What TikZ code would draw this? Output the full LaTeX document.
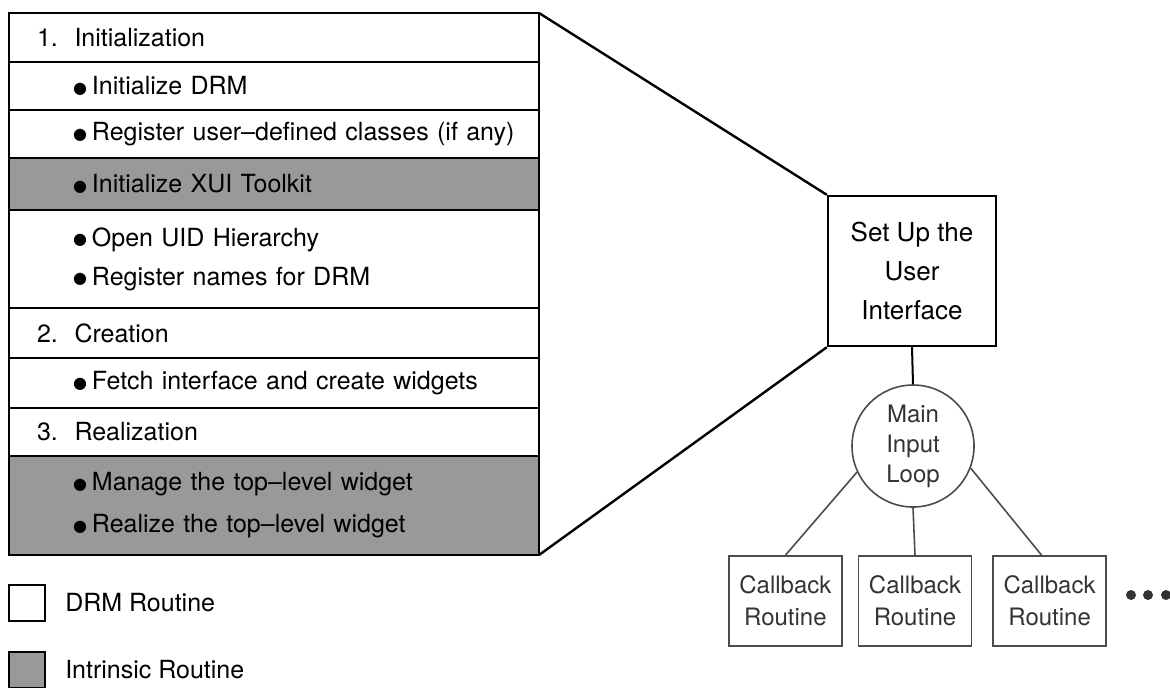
\documentclass[tikz,border=0pt]{standalone}
\usepackage{fontspec}
\setmainfont{TeX Gyre Heros}
\newfontfamily\symfont{DejaVu Sans}
\usetikzlibrary{positioning}

\tikzset{
  row/.style={draw, line width=1.4pt, anchor=north west, minimum width=265pt,
    text width=255pt, inner xsep=5pt, inner ysep=0pt, outer sep=0pt,
    align=left, font=\fontsize{12.5}{19.5}\selectfont},
  intr/.style={row, fill=black!40},
  setupbox/.style={draw, line width=1.2pt, minimum width=84pt, minimum height=75pt,
    align=center, font=\fontsize{13}{19.5}\selectfont},
  loopnode/.style={draw=black!70, circle, line width=0.8pt, minimum size=61pt,
    inner sep=0pt, align=center, text=black!80, font=\fontsize{12}{15}\selectfont},
  cbbox/.style={draw=black!70, line width=0.8pt, minimum width=56.5pt, minimum height=45pt,
    inner sep=0pt, align=center, text=black!80, font=\fontsize{12}{16}\selectfont},
  legbox/.style={draw, line width=1.2pt, minimum size=18pt, inner sep=0pt},
  legtext/.style={font=\fontsize{12.5}{15}\selectfont, anchor=west},
  thin link/.style={draw=black!70, line width=0.8pt}
}
\newcommand{\numitem}[2]{\hspace*{9pt}#1.\ \ #2}
\newcommand{\bitem}[1]{\hspace*{27pt}{\symfont\fontsize{8}{8}\selectfont\raisebox{0.6pt}{●}}\hspace{2.5pt}#1}

\begin{document}
\begin{tikzpicture}[x=0.5pt, y=-0.5pt]
  \useasboundingbox (0,0) rectangle (1170,687);

  % Table of steps
  \node[row, minimum height=24.5pt] (r1) at (9,13) {\numitem{1}{Initialization}};
  \node[row, minimum height=24pt] (r2) at (r1.south west) {\bitem{Initialize DRM}};
  \node[row, minimum height=24pt] (r3) at (r2.south west) {\bitem{Register user--defined classes (if any)}};
  \node[intr, minimum height=26pt] (r4) at (r3.south west) {\bitem{Initialize XUI Toolkit}};
  \node[row, minimum height=49pt] (r5) at (r4.south west) {\bitem{Open UID Hierarchy}\\ \bitem{Register names for DRM}};
  \node[row, minimum height=25pt] (r6) at (r5.south west) {\numitem{2}{Creation}};
  \node[row, minimum height=25pt] (r7) at (r6.south west) {\bitem{Fetch interface and create widgets}};
  \node[row, minimum height=24pt] (r8) at (r7.south west) {\numitem{3}{Realization}};
  \node[intr, minimum height=49.5pt] (r9) at (r8.south west) {\bitem{Manage the top--level widget}\\[1.5pt] \bitem{Realize the top--level widget}};

  % Legend
  \node[legbox] (lg1) at (27,603) {};
  \node[legtext, right=6pt of lg1] (lt1) {DRM Routine};
  \node[legbox, fill=black!40] (lg2) at (27,670) {};
  \node[legtext, right=6pt of lg2] (lt2) {Intrinsic Routine};

  % Right side
  \node[setupbox] (setup) at (912,271) {Set Up the\\User\\Interface};
  \node[loopnode] (loop) at (913,446) {Main\\Input\\Loop};
  \node[cbbox] (cb2) at (915,601) {Callback\\Routine};
  \node[cbbox, left=7.5pt of cb2] (cb1) {Callback\\Routine};
  \node[cbbox, right=10pt of cb2] (cb3) {Callback\\Routine};

  % Drawing
  \draw[line width=1.2pt] (r1.north east) -- (setup.north west);
  \draw[line width=1.2pt] (r9.south east) -- (setup.south west);
  \draw[line width=1pt] (setup.south) -- (loop.north);
  \draw[thin link] (loop.205) -- (cb1.north);
  \draw[thin link] (loop.south) -- (cb2.north);
  \draw[thin link] (loop.339) -- ([xshift=-4pt]cb3.north);
  \fill[black!80] (1131,595) circle (2.5pt);
  \fill[black!80] (1148,595) circle (2.5pt);
  \fill[black!80] (1166,595) circle (2.5pt);
\end{tikzpicture}
\end{document}
